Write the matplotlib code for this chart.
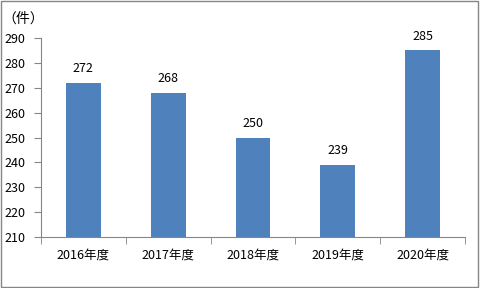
import matplotlib.pyplot as plt
import numpy as np

plt.rcParams['font.family'] = ['Noto Sans CJK JP', 'DejaVu Sans']

years = ["2016年度", "2017年度", "2018年度", "2019年度", "2020年度"]
counts = [272, 268, 250, 239, 285]

fig = plt.figure(figsize=(4.8, 2.88), dpi=100)
ax = fig.add_axes([0.0854, 0.177, 0.8833, 0.691])

x = np.arange(len(years))
ax.bar(x, counts, width=0.41, color='#4F81BD')
for xi, v in zip(x, counts):
    ax.text(xi, v + 3, str(v), ha='center', va='bottom', fontsize=9)

ax.set_xlim(-0.5, len(years) - 0.5)
ax.set_ylim(210, 290)
ax.set_yticks(range(210, 291, 10))
ax.set_xticks(x)
ax.set_xticklabels(years, fontsize=9)
ax.set_xticks(np.arange(-0.5, len(years)), minor=True)
ax.tick_params(axis='x', which='major', length=0, pad=8)
ax.tick_params(axis='x', which='minor', length=5, color='#868686', direction='out')
ax.tick_params(axis='y', length=5, color='#868686', labelsize=9, pad=6)

for s in ['top', 'right']:
    ax.spines[s].set_visible(False)
for s in ['left', 'bottom']:
    ax.spines[s].set_color('#868686')

fig.text(2 / 480, 1 - 19 / 288, "（件）", fontsize=10, va='center', ha='left')

# outer border
fig.patches.append(plt.Rectangle((0.002, 0.003), 0.994, 0.994, transform=fig.transFigure,
                                 fill=False, edgecolor='#868686', linewidth=1))

fig.savefig("out.png", dpi=100)
